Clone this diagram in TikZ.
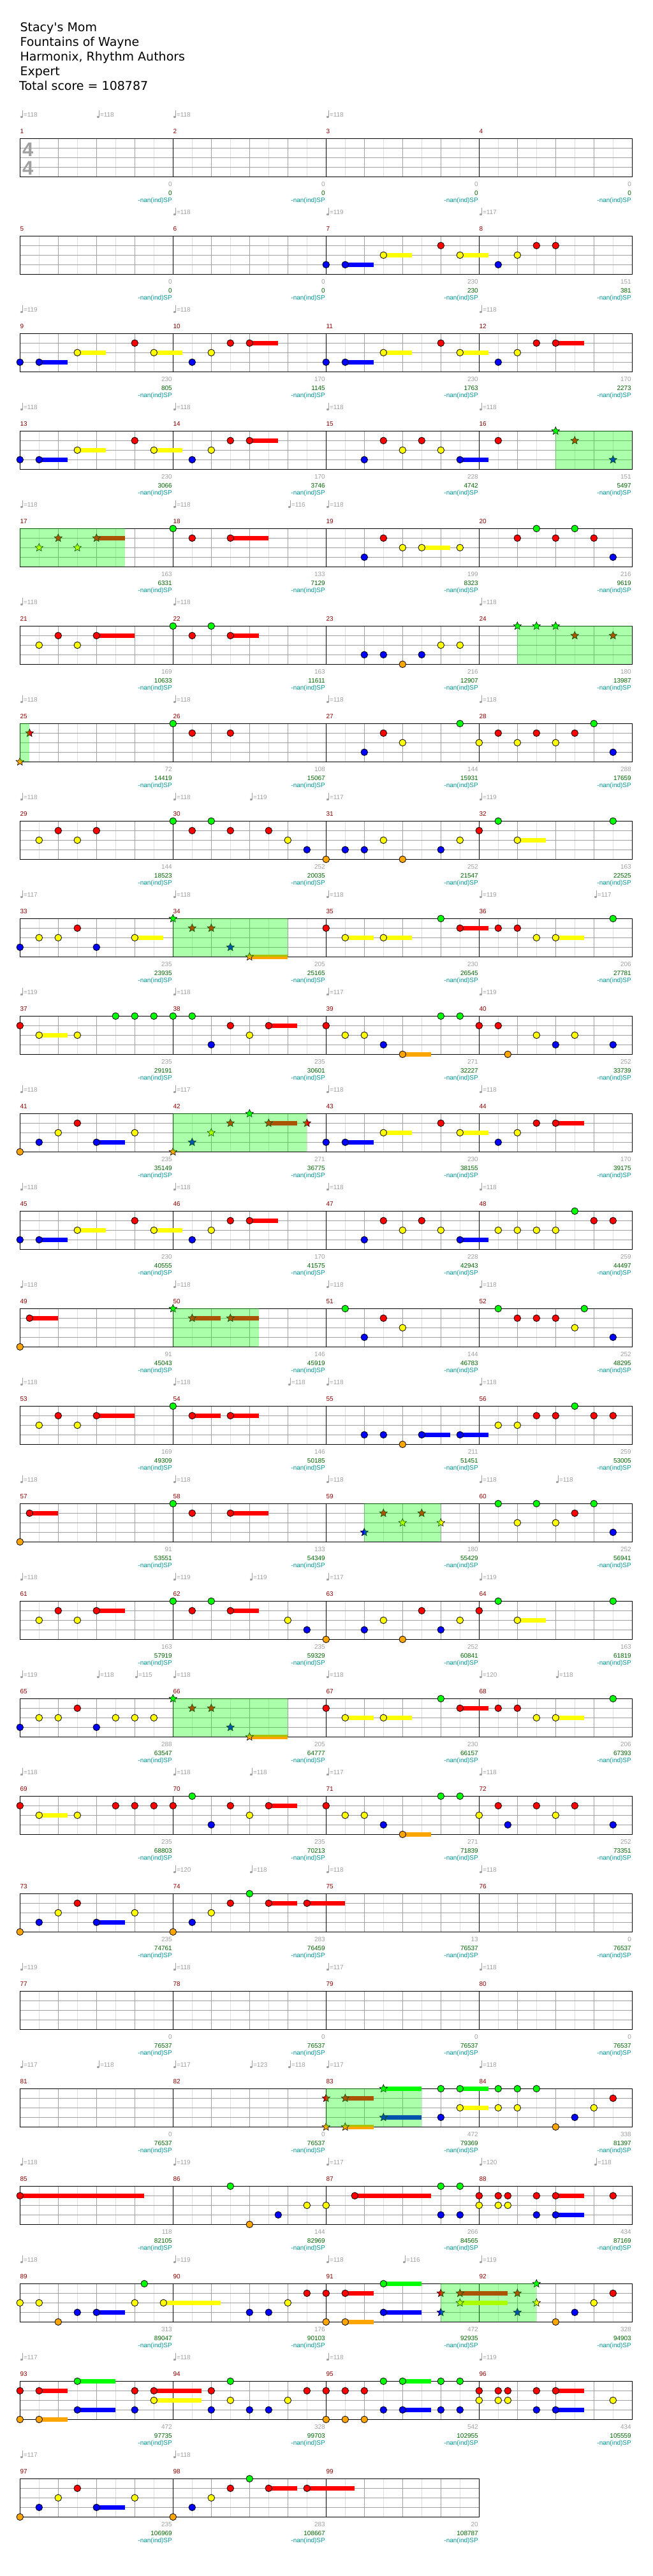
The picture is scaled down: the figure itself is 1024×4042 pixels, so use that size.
\documentclass[tikz,border=0pt]{standalone}
\usepackage{fontspec}
\setmainfont{Liberation Sans}
\newfontfamily\titlefont{DejaVu Sans}
\usetikzlibrary{shapes.geometric}
\definecolor{lane0}{RGB}{0,255,0}
\definecolor{lane1}{RGB}{255,0,0}
\definecolor{lane2}{RGB}{255,255,0}
\definecolor{lane3}{RGB}{0,0,255}
\definecolor{lane4}{RGB}{255,165,0}
\definecolor{txgray}{RGB}{160,160,160}
\definecolor{txgreen}{RGB}{0,100,0}
\definecolor{txcyan}{RGB}{0,150,150}
\definecolor{txred}{RGB}{140,0,0}
\definecolor{gridlight}{RGB}{222,222,222}
\definecolor{gridmid}{RGB}{160,160,160}
\newcommand\lab{\fontsize{10}{12}\selectfont}
\newcommand\setxy[3]{\pgfmathsetmacro\xx{31.3+240*mod(#1-1,4)+15*(#2)}\pgfmathsetmacro\yy{217.3+153*floor((#1-1)/4)+15*(#3)}}
\newcommand\nt[3]{\setxy{#1}{#2}{#3}\edef\lc{lane#3}\filldraw[fill=\lc,draw=black,line width=0.8pt] (\xx,\yy) circle (5.3);}
\newcommand\stn[3]{\setxy{#1}{#2}{#3}\edef\lc{lane#3}\node[starnote,fill=\lc] at (\xx,\yy) {};}
\newcommand\sus[4]{\setxy{#1}{#2}{#3}\edef\lc{lane#3}\fill[fill=\lc] (\xx,\yy-3.5) rectangle ++({15*#4},7);}
\newcommand\spb[3]{\setxy{#1}{#2}{0}\fill[lane0,fill opacity=0.33] (\xx,\yy) rectangle ++({15*#3},60);}
\newcommand\tmp[3]{\setxy{#1}{#2}{0}%
  \fill[txgray] (\xx+2.6,\yy-33.8) ellipse (2.1 and 1.6);
  \draw[txgray,line width=0.8pt] (\xx+4.4,\yy-34) -- (\xx+4.4,\yy-44.5);
  \node[anchor=base west,inner sep=0,text=txgray,font=\lab] at (\xx+5.5,\yy-33.6) {=#3};}
\newcommand\lbl[3]{\setxy{#1}{0}{0}%
  \node[anchor=base west,inner sep=0,text=txred,font=\lab] (mn#1) at (\xx,\yy-7.6) {#1};
  \node[anchor=base east,inner sep=0,text=txgray,font=\lab] (ma#1) at (\xx+238.7,\yy+75.4) {#2};
  \node[anchor=base east,inner sep=0,text=txgreen,font=\lab] (mb#1) at (\xx+238.7,\yy+88.7) {#3};
  \node[anchor=base east,inner sep=0,text=txcyan,font=\lab] (mc#1) at (\xx+238.7,\yy+100) {-nan(ind)SP};}
\begin{document}
\begin{tikzpicture}[x=1pt,y=-1pt,
  starnote/.style={star,star points=5,star point ratio=2.2,minimum size=13pt,inner sep=0pt,draw=black,line width=0.6pt},
  lightgrid/.style={gridlight,line width=0.8pt},
  midgrid/.style={gridmid,line width=0.8pt}]
\useasboundingbox (0,0) rectangle (1024,4042);
\fill[white] (0,0) rectangle (1024,4042);
% title
\begin{scope}[every node/.style={anchor=base west,inner sep=0,font=\titlefont\fontsize{19}{23}\selectfont}]
\node (t1) at (31.3,49.3) {Stacy\textquotesingle s Mom};
\node (t2) at (31.3,72.3) {Fountains of Wayne};
\node (t3) at (31.3,95.3) {Harmonix, Rhythm Authors};
\node (t4) at (31.3,118.3) {Expert};
\node (t5) at (30,141.3) {Total score = 108787};
\end{scope}
% grid
\foreach \r in {0,...,24}{
  \ifnum\r=24 \def\nm{3}\else\def\nm{4}\fi
  \pgfmathsetmacro\ty{217.3+153*\r}
  \pgfmathsetmacro\W{240*\nm}
  \pgfmathtruncatemacro\nh{8*\nm-1}
  \pgfmathtruncatemacro\nb{4*\nm-1}
  \pgfmathtruncatemacro\nmm{\nm-1}
  \foreach \i in {1,...,\nh} {\draw[lightgrid] ({31.3+30*\i},\ty) -- ++(0,60);}
  \foreach \k in {1,2,3} {\draw[midgrid] (31.3,{\ty+15*\k}) -- ++(\W,0);}
  \foreach \i in {1,...,\nb} {\draw[midgrid] ({31.3+60*\i},\ty) -- ++(0,60);}
  \foreach \i in {1,...,\nmm} {\draw[black,line width=0.9pt] ({31.3+240*\i},\ty) -- ++(0,60);}
  \draw[black,line width=1pt] (31.3,\ty) rectangle ++(\W,60);
}
% time signature
\node[anchor=base west,inner sep=0,text=txgray,font=\fontsize{31}{31}\selectfont\bfseries] (ts1) at (35,245.3) {4};
\node[anchor=base west,inner sep=0,text=txgray,font=\fontsize{31}{31}\selectfont\bfseries] (ts2) at (35,274) {4};
% measure labels
\foreach \m/\a/\b in {1/0/0,2/0/0,3/0/0,4/0/0,5/0/0,6/0/0,7/230/230,8/151/381,9/230/805,10/170/1145,11/230/1763,12/170/2273,13/230/3066,14/170/3746,15/228/4742,16/151/5497,17/163/6331,18/133/7129,19/199/8323,20/216/9619,21/169/10633,22/163/11611,23/216/12907,24/180/13987,25/72/14419,26/108/15067,27/144/15931,28/288/17659,29/144/18523,30/252/20035,31/252/21547,32/163/22525,33/235/23935,34/205/25165,35/230/26545,36/206/27781,37/235/29191,38/235/30601,39/271/32227,40/252/33739,41/235/35149,42/271/36775,43/230/38155,44/170/39175,45/230/40555,46/170/41575,47/228/42943,48/259/44497,49/91/45043,50/146/45919,51/144/46783,52/252/48295,53/169/49309,54/146/50185,55/211/51451,56/259/53005,57/91/53551,58/133/54349,59/180/55429,60/252/56941,61/163/57919,62/235/59329,63/252/60841,64/163/61819,65/288/63547,66/205/64777,67/230/66157,68/206/67393,69/235/68803,70/235/70213,71/271/71839,72/252/73351,73/235/74761,74/283/76459,75/13/76537,76/0/76537,77/0/76537,78/0/76537,79/0/76537,80/0/76537,81/0/76537,82/0/76537,83/472/79369,84/338/81397,85/118/82105,86/144/82969,87/266/84565,88/434/87169,89/313/89047,90/176/90103,91/472/92935,92/328/94903,93/472/97735,94/328/99703,95/542/102955,96/434/105559,97/235/106969,98/283/108667,99/20/108787}{\lbl{\m}{\a}{\b}}
% tempo marks
\foreach \m/\p/\v in {1/0/118,1/8/118,2/0/118,3/0/118,6/0/118,7/0/119,8/0/117,9/0/119,10/0/118,12/0/118,13/0/118,14/0/118,15/0/118,16/0/118,17/0/118,18/0/118,18/12/116,19/0/118,21/0/118,22/0/118,24/0/118,25/0/118,26/0/118,27/0/118,28/0/118,29/0/118,30/0/118,30/8/119,31/0/117,32/0/119,33/0/117,34/0/118,35/0/118,36/0/119,36/12/117,37/0/119,38/0/118,39/0/117,40/0/119,41/0/118,42/0/117,43/0/118,44/0/118,45/0/118,46/0/118,47/0/118,48/0/118,49/0/118,50/0/118,51/0/118,52/0/118,53/0/118,54/0/118,54/12/118,55/0/118,56/0/118,57/0/118,58/0/118,59/0/118,60/0/118,60/8/118,61/0/118,62/0/119,62/8/119,63/0/117,64/0/119,65/0/119,65/8/118,65/12/115,66/0/118,67/0/118,68/0/120,68/8/118,69/0/118,70/0/118,70/8/118,71/0/117,72/0/118,74/0/120,74/8/118,75/0/118,76/0/118,77/0/119,78/0/118,79/0/117,80/0/118,81/0/117,81/8/118,82/0/117,82/8/123,82/12/118,83/0/117,84/0/118,85/0/118,86/0/119,87/0/117,88/0/120,88/12/118,89/0/118,90/0/119,91/0/118,91/8/116,92/0/119,93/0/117,94/0/118,95/0/118,96/0/119,97/0/117,98/0/118}{\tmp{\m}{\p}{\v}}
% sustains
\foreach \m/\p/\l/\n in {7/2/3/3,7/6/2/3,7/14/2/3,9/2/3/3,9/6/2/3,9/14/2/3,10/8/1/3,11/2/3/3,11/6/2/3,11/14/2/3,12/8/1/3,13/2/3/3,13/6/2/3,13/14/2/3,14/8/1/3,15/14/3/3,17/8/1/3,18/6/1/4,19/10/2/3,21/8/1/4,22/6/1/3,32/4/2/3,33/12/2/3,34/8/4/4,35/2/2/3,35/6/2/3,35/14/1/3,36/8/2/3,37/2/2/3,38/10/1/3,39/8/4/3,41/8/3/3,42/10/1/3,43/2/3/3,43/6/2/3,43/14/2/3,44/8/1/3,45/2/3/3,45/6/2/3,45/14/2/3,46/8/1/3,47/14/3/3,49/1/1/3,50/2/1/3,50/6/1/3,53/8/1/4,54/2/1/3,54/6/1/3,55/10/3/3,55/14/3/3,57/1/1/3,58/6/1/4,61/8/1/3,62/6/1/3,64/4/2/3,66/8/4/4,67/2/2/3,67/6/2/3,67/14/1/3,68/8/2/3,69/2/2/3,70/10/1/3,71/8/4/3,73/8/3/3,74/10/1/3,74/14/1/4,83/2/1/3,83/2/4/3,83/6/0/4,83/6/3/4,83/14/0/3,83/14/2/3,85/0/1/13,87/3/1/8,88/8/1/3,88/8/3/3,89/8/3/3,89/15/2/6,91/2/1/3,91/2/4/3,91/6/0/4,91/6/3/4,91/14/1/5,91/14/2/5,93/2/1/3,93/2/4/3,93/6/0/4,93/6/3/4,93/14/1/5,93/14/2/5,95/8/0/3,95/8/3/3,96/8/1/3,96/8/3/3,97/8/3/3,98/10/1/3,98/14/1/5}{\sus{\m}{\p}{\l}{\n}}
% notes
\foreach \m/\p/\l in {7/0/3,7/2/3,7/6/2,7/12/1,7/14/2,8/2/3,8/4/2,8/6/1,8/8/1,9/0/3,9/2/3,9/6/2,9/12/1,9/14/2,10/2/3,10/4/2,10/6/1,10/8/1,11/0/3,11/2/3,11/6/2,11/12/1,11/14/2,12/2/3,12/4/2,12/6/1,12/8/1,13/0/3,13/2/3,13/6/2,13/12/1,13/14/2,14/2/3,14/4/2,14/6/1,14/8/1,15/4/3,15/6/1,15/8/2,15/10/1,15/12/2,15/14/3,16/2/1,18/0/0,18/2/1,18/6/1,19/4/3,19/6/1,19/8/2,19/10/2,19/14/2,20/4/1,20/6/0,20/8/1,20/10/0,20/12/1,20/14/3,21/2/2,21/4/1,21/6/2,21/8/1,22/0/0,22/2/1,22/4/0,22/6/1,23/4/3,23/6/3,23/8/4,23/10/3,23/12/2,23/14/2,26/0/0,26/2/1,26/6/1,27/4/3,27/6/1,27/8/2,27/14/0,28/0/2,28/2/1,28/4/2,28/6/1,28/8/2,28/10/1,28/12/0,28/14/3,29/2/2,29/4/1,29/6/2,29/8/1,30/0/0,30/2/1,30/4/0,30/6/1,30/10/1,30/12/2,30/14/3,31/0/4,31/2/3,31/4/3,31/6/2,31/8/4,31/12/3,31/14/2,32/0/1,32/2/0,32/4/2,32/14/0,33/0/3,33/2/2,33/4/2,33/6/1,33/8/3,33/12/2,35/0/1,35/2/2,35/6/2,35/12/0,35/14/1,36/2/1,36/4/1,36/6/2,36/8/2,36/14/0,37/0/1,37/2/2,37/6/2,37/10/0,37/12/0,37/14/0,38/0/0,38/2/0,38/4/3,38/6/1,38/8/2,38/10/1,39/0/1,39/2/2,39/4/2,39/6/3,39/8/4,39/12/0,39/14/0,40/0/1,40/2/1,40/3/4,40/6/2,40/8/3,40/10/2,40/14/3,41/0/4,41/2/3,41/4/2,41/6/1,41/8/3,41/12/2,43/0/3,43/2/3,43/6/2,43/12/1,43/14/2,44/2/3,44/4/2,44/6/1,44/8/1,45/0/3,45/2/3,45/6/2,45/12/1,45/14/2,46/2/3,46/4/2,46/6/1,46/8/1,47/4/3,47/6/1,47/8/2,47/10/1,47/12/2,47/14/3,48/2/2,48/4/2,48/6/2,48/8/2,48/10/0,48/12/1,48/14/1,49/0/4,49/1/1,51/2/0,51/4/3,51/6/1,51/8/2,52/2/0,52/4/1,52/6/1,52/8/1,52/10/2,52/11/0,52/14/3,53/2/2,53/4/1,53/6/2,53/8/1,54/0/0,54/2/1,54/6/1,55/4/3,55/6/3,55/8/4,55/10/3,55/14/3,56/2/2,56/4/2,56/6/1,56/8/1,56/10/0,56/12/1,56/14/1,57/0/4,57/1/1,58/0/0,58/2/1,58/6/1,60/2/0,60/4/2,60/6/0,60/8/2,60/10/1,60/12/0,60/14/3,61/2/2,61/4/1,61/6/2,61/8/1,62/0/0,62/2/1,62/4/0,62/6/1,62/12/2,62/14/3,63/0/4,63/4/3,63/6/2,63/8/4,63/10/1,63/12/3,63/14/2,64/0/1,64/2/0,64/4/2,64/14/0,65/0/3,65/2/2,65/4/2,65/6/1,65/8/3,65/10/2,65/12/2,65/14/2,67/0/1,67/2/2,67/6/2,67/12/0,67/14/1,68/2/1,68/4/1,68/6/2,68/8/2,68/14/0,69/0/1,69/2/2,69/6/2,69/10/1,69/12/1,69/14/1,70/0/1,70/2/0,70/4/3,70/6/1,70/8/2,70/10/1,71/0/1,71/2/2,71/4/2,71/6/3,71/8/4,71/12/0,71/14/0,72/0/2,72/2/1,72/3/3,72/6/1,72/8/2,72/10/1,72/14/3,73/0/4,73/2/3,73/4/2,73/6/1,73/8/3,73/12/2,74/0/4,74/2/3,74/4/2,74/6/1,74/8/0,74/10/1,74/14/1,83/12/0,83/12/3,83/14/0,83/14/2,84/2/0,84/2/2,84/4/0,84/4/2,84/6/0,84/8/4,84/10/3,84/12/2,84/14/1,85/0/1,86/6/0,86/8/4,86/11/3,86/14/2,87/0/2,87/3/1,87/12/0,87/12/3,87/14/0,87/14/3,88/0/1,88/0/2,88/2/1,88/2/2,88/3/1,88/3/2,88/6/1,88/6/3,88/8/1,88/8/3,88/14/1,89/0/2,89/2/2,89/4/4,89/6/3,89/8/3,89/12/2,89/13/0,89/15/2,90/8/3,90/10/3,90/12/2,90/14/1,91/0/1,91/0/4,91/2/1,91/2/4,91/6/0,91/6/3,92/8/4,92/10/3,92/12/2,92/14/1,93/0/1,93/0/4,93/2/1,93/2/4,93/6/0,93/6/3,93/12/1,93/12/3,93/14/1,93/14/2,94/4/1,94/4/3,94/6/0,94/6/2,94/8/3,94/10/3,94/12/2,94/14/1,95/0/1,95/0/4,95/2/1,95/2/4,95/4/1,95/4/4,95/6/0,95/6/3,95/8/0,95/8/3,95/12/0,95/12/3,95/14/0,95/14/3,96/0/1,96/0/2,96/2/1,96/2/2,96/3/1,96/3/2,96/6/1,96/6/3,96/8/1,96/8/3,96/14/2,97/0/4,97/2/3,97/4/2,97/6/1,97/8/3,97/12/2,98/0/4,98/2/3,98/4/2,98/6/1,98/8/0,98/10/1,98/14/1}{\nt{\m}{\p}{\l}}
% star notes
\foreach \m/\p/\l in {16/8/0,16/10/1,16/14/3,17/2/2,17/4/1,17/6/2,17/8/1,24/4/0,24/6/0,24/8/0,24/10/1,24/14/1,25/0/4,25/1/1,34/0/0,34/2/1,34/4/1,34/6/3,34/8/4,42/0/4,42/2/3,42/4/2,42/6/1,42/8/0,42/10/1,42/14/1,50/0/0,50/2/1,50/6/1,59/4/3,59/6/1,59/8/2,59/10/1,59/12/2,66/0/0,66/2/1,66/4/1,66/6/3,66/8/4,83/0/1,83/0/4,83/2/1,83/2/4,83/6/0,83/6/3,91/12/1,91/12/3,91/14/1,91/14/2,92/4/1,92/4/3,92/6/0,92/6/2}{\stn{\m}{\p}{\l}}
% star power phrases
\foreach \m/\p/\n in {16/8/8,17/0/11,24/4/12,25/0/1,34/0/12,42/0/14,50/0/9,59/4/8,66/0/12,83/0/10,91/12/10}{\spb{\m}{\p}{\n}}
\end{tikzpicture}
\end{document}
